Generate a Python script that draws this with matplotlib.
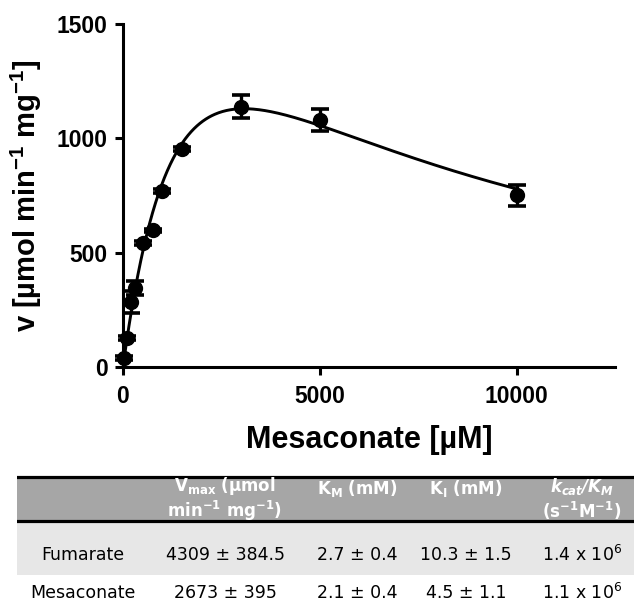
import numpy as np
import matplotlib
matplotlib.use("Agg")
import matplotlib.pyplot as plt
from matplotlib import font_manager as fm
from matplotlib.patches import Rectangle

# substrate-inhibition kinetics with mesaconate
substrate_um = [25, 100, 200, 300, 500, 750, 1000, 1500, 3000, 5000, 10000]
rate = [38, 127, 286, 345, 542, 597, 770, 953, 1138, 1080, 752]
rate_sem = [8, 8, 48, 32, 8, 8, 8, 8, 50, 47, 46]

# fitted parameters (table rows)
substrates = ["Fumarate", "Mesaconate"]
vmax_txt = ["4309 ± 384.5", "2673 ± 395"]
km_txt = ["2.7 ± 0.4", "2.1 ± 0.4"]
ki_txt = ["10.3 ± 1.5", "4.5 ± 1.1"]
kcat_km_txt = ["1.4 x 10$^{\\mathregular{6}}$", "1.1 x 10$^{\\mathregular{6}}$"]
mesa_vmax = 2673.0
mesa_km_mm = 2.1
mesa_ki_mm = 4.5

# bold italic math for the kcat/KM header
plt.rcParams["mathtext.fontset"] = "custom"
plt.rcParams["mathtext.it"] = "DejaVu Sans:italic:bold"
plt.rcParams["mathtext.rm"] = "DejaVu Sans:italic:bold"
plt.rcParams["mathtext.bf"] = "DejaVu Sans:bold"


def liberation_bold(size):
    # pick the regular-width bold face explicitly (not the Narrow one)
    for f in fm.fontManager.ttflist:
        if (f.name == "Liberation Sans" and f.weight in (700, "bold")
                and f.style == "normal" and "Narrow" not in f.fname):
            return fm.FontProperties(fname=f.fname, size=size)
    return fm.FontProperties(family="Liberation Sans", weight="bold", size=size)


table_font = ["DejaVu Sans"]

fig = plt.figure(figsize=(6.34, 6.05), dpi=100)
W, H = 634, 605
ax = fig.add_axes([123 / W, 1 - 367 / H, (615 - 123) / W, (367 - 24) / H])

# fitted curve: v = Vmax*S / (Km + S*(1 + S/Ki))
s = np.linspace(0, 10000, 400)
km = mesa_km_mm * 1000
ki = mesa_ki_mm * 1000
v = mesa_vmax * s / (km + s * (1 + s / ki))
ax.plot(s, v, color="black", lw=2.1, zorder=2)

ax.errorbar(substrate_um, rate, yerr=rate_sem, fmt="o", color="black",
            ms=10, elinewidth=2.4, capsize=6.5, capthick=2.6, zorder=3,
            clip_on=False)

ax.set_xlim(0, 12500)
ax.set_ylim(0, 1500)
ax.set_xticks([0, 5000, 10000])
ax.set_yticks([0, 500, 1000, 1500])
for side in ("top", "right"):
    ax.spines[side].set_visible(False)
for side in ("left", "bottom"):
    ax.spines[side].set_linewidth(2.2)
ax.tick_params(direction="out", length=6, width=2.2, pad=5)
tick_fp = liberation_bold(16.5)
for lab in ax.get_xticklabels() + ax.get_yticklabels():
    lab.set_fontproperties(tick_fp)
ax.tick_params(axis="x", pad=7)

ax.set_xlabel("Mesaconate [µM]", fontproperties=liberation_bold(22),
              labelpad=12)
ax.set_ylabel("v [µmol min$^{\\mathregular{-1}}$ mg$^{\\mathregular{-1}}$]",
              fontproperties=liberation_bold(21), labelpad=9)

# parameter table below the plot, laid out in pixel units
tab = fig.add_axes([17 / W, 0, (W - 17) / W, 130 / H])
tab.set_xlim(17, W)
tab.set_ylim(605, 475)
tab.axis("off")
tab.add_patch(Rectangle((17, 477), W - 17, 44, facecolor="#a6a6a6",
                        edgecolor="none"))
tab.add_patch(Rectangle((17, 522), W - 17, 53, facecolor="#e7e7e7",
                        edgecolor="none"))
tab.axhline(477, color="black", lw=2.3)
tab.axhline(521, color="black", lw=2.3)

col_x = [83, 225, 357, 466, 582]
hdr = dict(family=table_font, fontweight="bold", fontsize=12,
           color="white", ha="center", linespacing=1.15)
tab.text(col_x[1], 499,
         "V$_{\\mathregular{max}}$ (µmol\n"
         "min$^{\\mathregular{-1}}$ mg$^{\\mathregular{-1}}$)",
         va="center", **hdr)
tab.text(col_x[2], 494, "K$_{\\mathregular{M}}$ (mM)", va="baseline", **hdr)
tab.text(col_x[3], 494, "K$_{\\mathregular{I}}$ (mM)", va="baseline", **hdr)
tab.text(col_x[4], 499,
         "$k_{cat}/K_M$\n"
         "(s$^{\\mathregular{-1}}$M$^{\\mathregular{-1}}$)",
         va="center", **hdr)

cell = dict(family=table_font, fontsize=12.5, color="black",
            ha="center", va="center")
row_y = [555, 593]
for i, y in enumerate(row_y):
    tab.text(col_x[0], y, substrates[i], **cell)
    tab.text(col_x[1], y, vmax_txt[i], **cell)
    tab.text(col_x[2], y, km_txt[i], **cell)
    tab.text(col_x[3], y, ki_txt[i], **cell)
    tab.text(col_x[4], y, kcat_km_txt[i], **cell)

fig.savefig("out.png", dpi=100)
